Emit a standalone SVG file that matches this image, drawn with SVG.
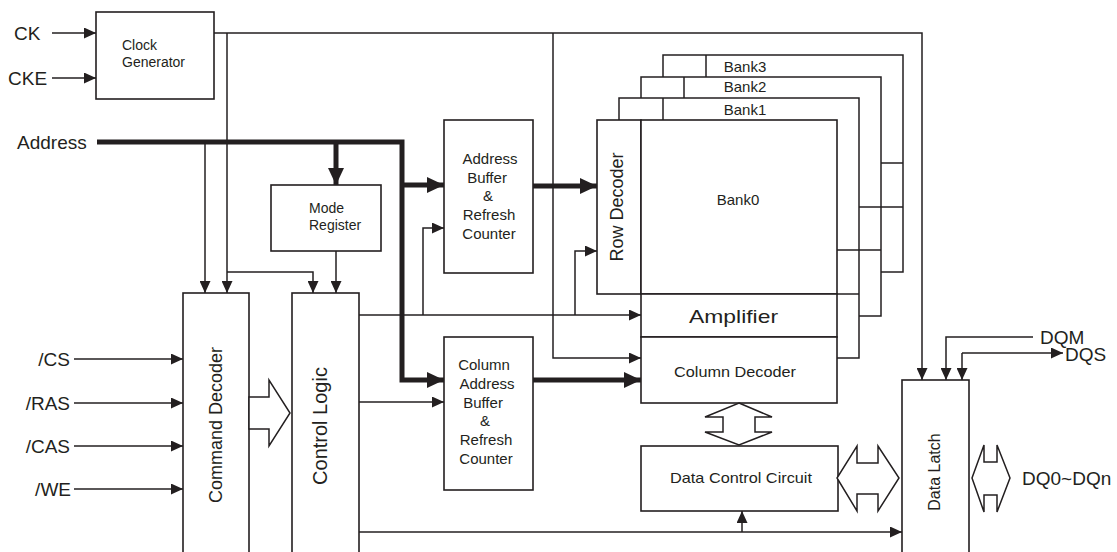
<svg xmlns="http://www.w3.org/2000/svg" width="1117" height="552" viewBox="0 0 1117 552">
<style>
.box{fill:#fff;stroke:#231f20;stroke-width:1.6}
.ln{fill:none;stroke:#231f20;stroke-width:1.5}
.th{fill:none;stroke:#231f20;stroke-width:5}
.hol{fill:#fff;stroke:#231f20;stroke-width:1.5;stroke-linejoin:miter}
text{font-family:"Liberation Sans",Arial,sans-serif;fill:#231f20}
.big{font-size:19px}
.sm{font-size:14px}
.md{font-size:15px}
</style>
<defs>
<marker id="a" markerUnits="userSpaceOnUse" markerWidth="12" markerHeight="11" refX="12" refY="5.5" orient="auto"><path d="M0,0 L12,5.5 L0,11 z" fill="#231f20"/></marker>
<marker id="A" markerUnits="userSpaceOnUse" markerWidth="17" markerHeight="16" refX="17" refY="8" orient="auto"><path d="M0,0 L17,8 L0,16 z" fill="#231f20"/></marker>
</defs>
<rect width="1117" height="552" fill="#fff"/>

<g id="labels">
<text class="big" x="14" y="40">CK</text>
<text class="big" x="8" y="85">CKE</text>
<text class="big" x="17" y="149">Address</text>
<text class="big" x="70" y="366" text-anchor="end">/CS</text>
<text class="big" x="70" y="410" text-anchor="end">/RAS</text>
<text class="big" x="70" y="453" text-anchor="end">/CAS</text>
<text class="big" x="71" y="496" text-anchor="end">/WE</text>
<text class="big" x="1040" y="344">DQM</text>
<text class="big" x="1065" y="361">DQS</text>
<text class="big" x="1022" y="485">DQ0~DQn</text>
</g>

<g id="clock-generator">
<rect class="box" x="96" y="12" width="118" height="87"/>
<text class="sm" x="122" y="50">Clock</text>
<text class="sm" x="122" y="67">Generator</text>
</g>

<g id="mode-register">
<rect class="box" x="271" y="185" width="110" height="66"/>
<text class="sm" x="309" y="213">Mode</text>
<text class="sm" x="309" y="230">Register</text>
</g>

<g id="command-decoder">
<rect class="box" x="183" y="293" width="66" height="270"/>
<text transform="translate(215,425) rotate(-90)" y="6.5" text-anchor="middle" style="font-size:18px">Command Decoder</text>
</g>

<g id="control-logic">
<rect class="box" x="292" y="293" width="67" height="270"/>
<text transform="translate(320,426) rotate(-90)" y="7" text-anchor="middle" style="font-size:20px">Control Logic</text>
</g>

<g id="address-buffer">
<rect class="box" x="444" y="120" width="89" height="153"/>
<g class="md" text-anchor="middle">
<text x="490" y="164">Address</text>
<text x="487" y="183">Buffer</text>
<text x="488" y="201">&amp;</text>
<text x="489" y="220">Refresh</text>
<text x="489" y="239">Counter</text>
</g>
</g>

<g id="column-address-buffer">
<rect class="box" x="444" y="337" width="89" height="153"/>
<g class="md" text-anchor="middle">
<text x="484" y="370">Column</text>
<text x="487" y="389">Address</text>
<text x="483" y="408">Buffer</text>
<text x="485" y="426">&amp;</text>
<text x="486" y="445">Refresh</text>
<text x="486" y="464">Counter</text>
</g>
</g>

<g id="bank3">
<path class="ln" d="M663,77 V55 H903 V272 H881 M706,55 V77 M881,163 H903"/>
<text class="md" x="745" y="72" text-anchor="middle">Bank3</text>
</g>
<g id="bank2">
<path class="ln" d="M641,98 V77 H881 V316 H859 M684,77 V98 M859,207 H903"/>
<text class="md" x="745" y="92" text-anchor="middle">Bank2</text>
</g>
<g id="bank1">
<path class="ln" d="M619,120 V98 H859 V358 H837 M663,98 V120 M837,250 H881"/>
<text class="md" x="745" y="115" text-anchor="middle">Bank1</text>
</g>

<g id="bank0">
<rect class="box" x="597" y="120" width="44" height="174"/>
<rect class="box" x="641" y="120" width="196" height="174"/>
<text transform="translate(616,207) rotate(-90)" y="6.5" text-anchor="middle" style="font-size:18px">Row Decoder</text>
<text class="md" x="738" y="205" text-anchor="middle">Bank0</text>
<line class="ln" x1="837" y1="294" x2="859" y2="294"/>
</g>

<g id="amplifier">
<rect class="box" x="641" y="294" width="196" height="43"/>
<text x="689" y="323" style="font-size:19px" textLength="89" lengthAdjust="spacingAndGlyphs">Amplifier</text>
</g>

<g id="column-decoder">
<rect class="box" x="641" y="337" width="196" height="66"/>
<text x="674" y="377" style="font-size:15px" textLength="122" lengthAdjust="spacingAndGlyphs">Column Decoder</text>
</g>

<g id="data-control-circuit">
<rect class="box" x="641" y="446" width="197" height="65"/>
<text x="670" y="483" style="font-size:15px" textLength="142" lengthAdjust="spacingAndGlyphs">Data Control Circuit</text>
</g>

<g id="data-latch">
<rect class="box" x="902" y="380" width="67" height="185"/>
<text transform="translate(934,472) rotate(-90)" y="5.5" text-anchor="middle" style="font-size:16px">Data Latch</text>
</g>

<g id="connectors">
<line class="ln" x1="52" y1="33" x2="96" y2="33" marker-end="url(#a)"/>
<line class="ln" x1="52" y1="78" x2="96" y2="78" marker-end="url(#a)"/>
<path class="ln" d="M214,33 H922 V380" marker-end="url(#a)"/>
<path class="ln" d="M227,33 V293" marker-end="url(#a)"/>
<path class="ln" d="M227,272 H313 V293" marker-end="url(#a)"/>
<path class="ln" d="M553,33 V358 H641" marker-end="url(#a)"/>
<path class="th" d="M97,142 H402 V380 H444" marker-end="url(#A)"/>
<path class="th" d="M402,185 H444" marker-end="url(#A)"/>
<path class="th" d="M336,142 V185" marker-end="url(#A)"/>
<path class="ln" d="M205,142 V293" marker-end="url(#a)"/>
<path class="ln" d="M336,251 V293" marker-end="url(#a)"/>
<line class="ln" x1="74" y1="359" x2="183" y2="359" marker-end="url(#a)"/>
<line class="ln" x1="74" y1="403" x2="183" y2="403" marker-end="url(#a)"/>
<line class="ln" x1="74" y1="446" x2="183" y2="446" marker-end="url(#a)"/>
<line class="ln" x1="74" y1="489" x2="183" y2="489" marker-end="url(#a)"/>
<path class="ln" d="M359,315 H641" marker-end="url(#a)"/>
<path class="ln" d="M423,315 V228 H444" marker-end="url(#a)"/>
<path class="ln" d="M575,315 V251 H597" marker-end="url(#a)"/>
<path class="ln" d="M359,402 H444" marker-end="url(#a)"/>
<path class="ln" d="M359,532 H902" marker-end="url(#a)"/>
<path class="ln" d="M742,532 V511" marker-end="url(#a)"/>
<path class="th" d="M533,186 H597" marker-end="url(#A)"/>
<path class="th" d="M533,380 H641" marker-end="url(#A)"/>
<path class="ln" d="M1033,337 H946 V380" marker-end="url(#a)"/>
<path class="ln" d="M962,353 H1063" marker-end="url(#a)"/>
<path class="ln" d="M962,353 V380" marker-end="url(#a)"/>
<polygon class="hol" points="249,397 269,397 269,380 290,413 269,446 269,429 249,429"/>
<polygon class="hol" points="739,403 772,417 755,417 755,432 772,432 739,445 705,432 723,432 723,417 705,417"/>
<polygon class="hol" points="857,446 857,463 878,463 878,446 899,478 878,511 878,494 857,494 857,511 837,478"/>
<polygon class="hol" points="984,445 984,462 997,462 997,445 1010,478 997,512 997,495 984,495 984,512 972,478"/>
</g>
</svg>
